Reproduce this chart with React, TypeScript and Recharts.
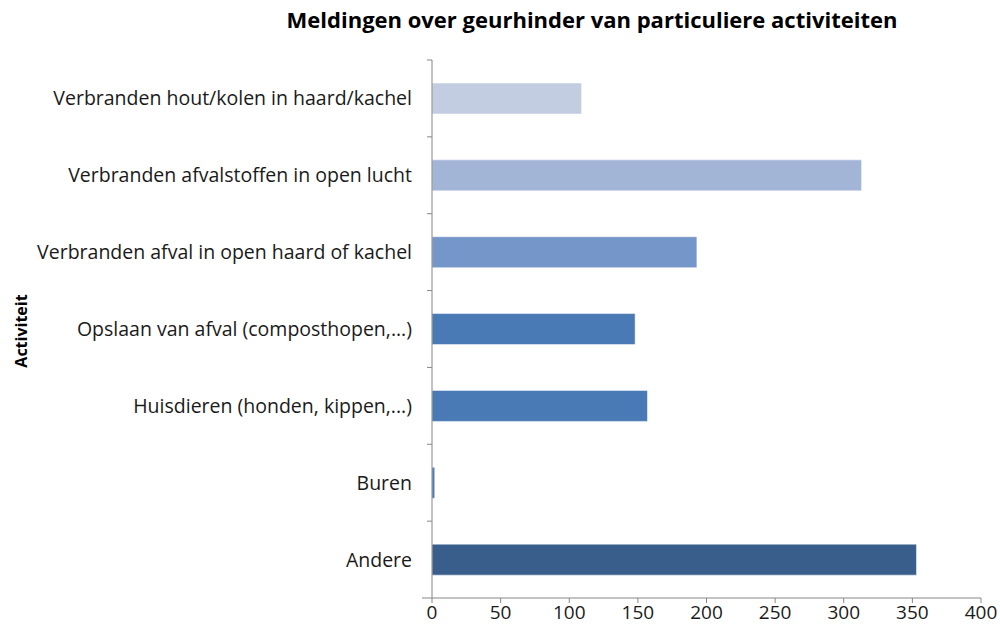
import { Bar, BarChart, Cell, XAxis, YAxis } from "recharts";

const categories = [
  "Verbranden hout/kolen in haard/kachel",
  "Verbranden afvalstoffen in open lucht",
  "Verbranden afval in open haard of kachel",
  "Opslaan van afval (composthopen,...)",
  "Huisdieren (honden, kippen,...)",
  "Buren",
  "Andere",
];
const meldingen = [109, 313, 193, 148, 157, 2, 353];
const barColors = ["#C3CDE2", "#A2B5D6", "#7596C8", "#4A7AB5", "#4A7AB5", "#4A7AB5", "#3A5E8C"];
const xTicks = [0, 50, 100, 150, 200, 250, 300, 350, 400];

const data = categories.map((name, i) => ({ name, value: meldingen[i] }));

const W = 1000;
const H = 637;
const X_AXIS_H = 30;
const margin = { top: 60, right: 19, bottom: 9, left: 0 };
const band = (H - margin.top - margin.bottom - X_AXIS_H) / categories.length;
const font = "'Open Sans', Lato, sans-serif";
const axisGrey = "#868686";

// category label plus the short tick marks at band edges, like Excel draws them
const CategoryTick = (props: any) => {
  const { x, y, payload, index } = props;
  const axisX = x + 20;
  return (
    <g>
      <text x={x} y={y} dy={7} textAnchor="end" fontSize={19.5} fill="#1a1a1a" fontFamily={font}>
        {payload.value}
      </text>
      <line x1={axisX - 5} x2={axisX} y1={y - band / 2} y2={y - band / 2} stroke={axisGrey} />
      {index === categories.length - 1 && (
        <line x1={axisX - 10} x2={axisX} y1={y + band / 2} y2={y + band / 2} stroke={axisGrey} />
      )}
    </g>
  );
};

const App = () => (
  <div style={{ position: "absolute", left: 0, top: 0, width: W, height: H, background: "#fff" }}>
    <div
      style={{
        position: "absolute",
        left: 192,
        width: 800,
        top: 4,
        textAlign: "center",
        fontFamily: font,
        fontWeight: 700,
        fontSize: 22,
        color: "#000",
      }}
    >
      Meldingen over geurhinder van particuliere activiteiten
    </div>
    <div
      style={{
        position: "absolute",
        left: 9,
        top: 331,
        transform: "translate(-50%, -50%) rotate(-90deg)",
        transformOrigin: "center",
        marginLeft: 12,
        fontFamily: font,
        fontWeight: 700,
        fontSize: 16,
        color: "#000",
      }}
    >
      Activiteit
    </div>
    <BarChart width={W} height={H} data={data} layout="vertical" margin={margin}>
      <XAxis
        type="number"
        domain={[0, 400]}
        ticks={xTicks}
        interval={0}
        height={X_AXIS_H}
        stroke={axisGrey}
        tickSize={5}
        tickMargin={3}
        tick={{ fontSize: 19, fill: "#1a1a1a", fontFamily: font }}
      />
      <YAxis
        type="category"
        dataKey="name"
        width={432}
        interval={0}
        stroke={axisGrey}
        tickLine={false}
        tickMargin={0}
        tickSize={20}
        tick={<CategoryTick />}
      />
      <Bar dataKey="value" barSize={31} isAnimationActive={false} stroke="#ffffff" strokeOpacity={0.5}>
        {data.map((d, i) => (
          <Cell key={d.name} fill={barColors[i]} />
        ))}
      </Bar>
    </BarChart>
  </div>
);

export default App;
